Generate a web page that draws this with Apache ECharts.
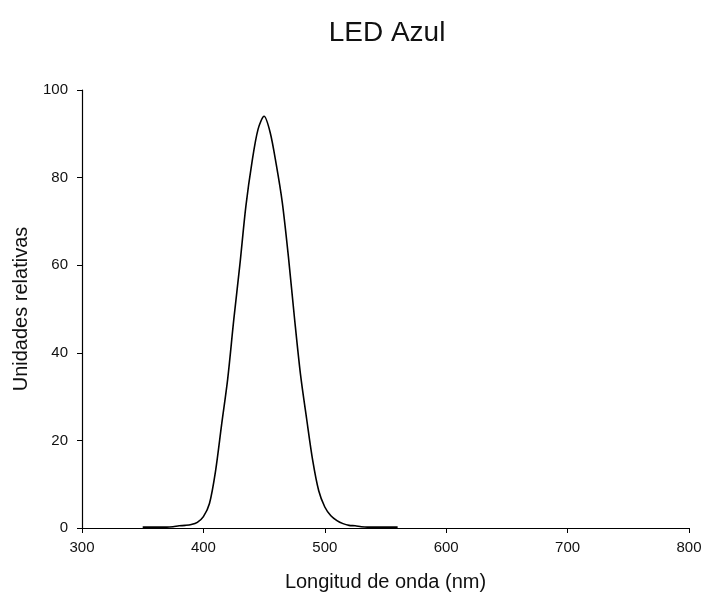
<!DOCTYPE html>
<html>
<head>
<meta charset="utf-8">
<script src="https://cdn.jsdelivr.net/npm/echarts@6/dist/echarts.min.js"></script>
<style>
  html, body { margin: 0; padding: 0; background: #fff; }
  #chart { width: 707px; height: 597px; }
</style>
</head>
<body>
<div id="chart"></div>
<script>
// Emission spectrum of a blue LED (relative units vs wavelength in nm)
const wavelengths = [350, 355, 360, 365, 370, 375, 380, 385, 390, 395, 400, 405, 410, 415, 420, 425, 430, 435, 440, 445, 450, 455, 460, 465, 470, 475, 480, 485, 490, 495, 500, 505, 510, 515, 520, 525, 530, 535, 540, 545, 550, 555, 560];
const intensity   = [0.2, 0.2, 0.2, 0.2, 0.2, 0.3, 0.5, 0.6, 0.8, 1.3, 2.6, 5.6, 13, 23.6, 34, 47.5, 60, 73.5, 83.5, 91, 94, 90.3, 83, 74.3, 62, 48, 35, 25, 15.5, 8.5, 4.8, 2.8, 1.7, 1.0, 0.6, 0.5, 0.3, 0.2, 0.2, 0.2, 0.2, 0.2, 0.2];
const xTicks = [300, 400, 500, 600, 700, 800];
const yTicks = [0, 20, 40, 60, 80, 100];

const seriesData = wavelengths.map((w, i) => [w, intensity[i]]);
const font = '"Liberation Sans", Arial, sans-serif';

const chart = echarts.init(document.getElementById('chart'), null, { renderer: 'canvas' });
chart.setOption({
  animation: false,
  backgroundColor: '#ffffff',
  title: {
    text: 'LED Azul',
    left: 382,
    top: 14,
    textAlign: 'center',
    textStyle: { fontFamily: font, fontSize: 28, fontWeight: 'normal', color: '#111' }
  },
  grid: { left: 82, right: 18, top: 90, bottom: 68, containLabel: false },
  xAxis: {
    type: 'value',
    min: xTicks[0],
    max: xTicks[xTicks.length - 1],
    interval: 100,
    name: 'Longitud de onda (nm)',
    nameLocation: 'middle',
    nameGap: 44,
    nameTextStyle: { fontFamily: font, fontSize: 20, color: '#111' },
    axisLine: { show: true, onZero: false, lineStyle: { color: '#000', width: 1.2 } },
    axisTick: { show: true, inside: false, length: 5, lineStyle: { color: '#000' } },
    axisLabel: { fontFamily: font, fontSize: 15, color: '#111', margin: 12 },
    splitLine: { show: false }
  },
  yAxis: {
    type: 'value',
    min: yTicks[0],
    max: yTicks[yTicks.length - 1],
    interval: 20,
    name: 'Unidades relativas',
    nameLocation: 'middle',
    nameGap: 51,
    nameTextStyle: { fontFamily: font, fontSize: 20, color: '#111' },
    axisLine: { show: true, onZero: false, lineStyle: { color: '#000', width: 1.2 } },
    axisTick: { show: true, inside: false, length: 5, lineStyle: { color: '#000' } },
    axisLabel: { fontFamily: font, fontSize: 15, color: '#111', margin: 14 },
    splitLine: { show: false }
  },
  series: [{
    type: 'line',
    data: seriesData,
    showSymbol: false,
    smooth: 0.3,
    lineStyle: { color: '#000', width: 1.6 },
    z: 3
  }]
});
</script>
</body>
</html>
